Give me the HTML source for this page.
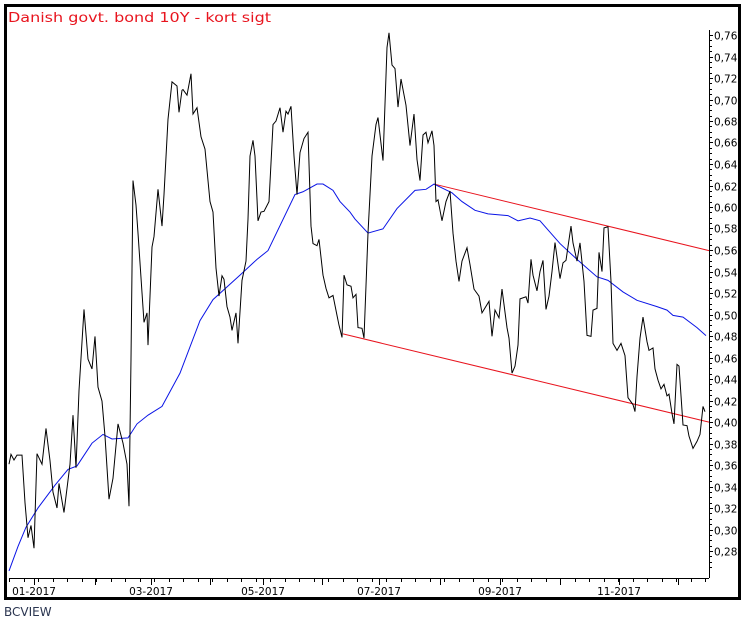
<!DOCTYPE html>
<html><head><meta charset="utf-8"><style>
html,body{margin:0;padding:0;background:#fff;}
svg{display:block;font-family:"DejaVu Sans","Liberation Sans",sans-serif;}
</style></head><body>
<svg width="748" height="627" viewBox="0 0 748 627" xmlns="http://www.w3.org/2000/svg">
<rect x="0" y="0" width="748" height="627" fill="#fff"/>
<rect x="5.5" y="5.5" width="734" height="593" fill="none" stroke="#000" stroke-width="3"/>
<text x="8" y="22" font-size="13" fill="#e8141e" textLength="263" lengthAdjust="spacingAndGlyphs">Danish govt. bond 10Y - kort sigt</text>
<text x="4" y="616" font-size="12" fill="#2a3550">BCVIEW</text>

<!-- y axis -->
<line x1="709.5" y1="30" x2="709.5" y2="578" stroke="#000" stroke-width="1"/>
<g id="yt" stroke="#000" stroke-width="1"></g>
<g font-size="10.5" fill="#000" id="yl"></g>

<!-- x axis -->
<line x1="9" y1="578.5" x2="709" y2="578.5" stroke="#000" stroke-width="1"/>
<g id="xt" stroke="#000" stroke-width="1"></g>
<g font-size="10.5" fill="#000" text-anchor="middle">
<text x="34" y="595">01-2017</text>
<text x="151" y="595">03-2017</text>
<text x="263" y="595">05-2017</text>
<text x="379" y="595">07-2017</text>
<text x="500" y="595">09-2017</text>
<text x="619" y="595">11-2017</text>
</g>

<g transform="translate(0,30) scale(1,0.35014)" fill="none">
<polyline vector-effect="non-scaling-stroke" stroke="#e8141e" stroke-width="1" points="434,440 709,630"/>
<polyline vector-effect="non-scaling-stroke" stroke="#e8141e" stroke-width="1" points="343,868 709,1120"/>
<polyline vector-effect="non-scaling-stroke" stroke="#0a14e6" stroke-width="1" points="9,1545 18,1475 26,1420 38,1365 55,1300 68,1255 77,1245 92,1180 103,1155 112,1168 128,1165 137,1125 148,1100 162,1075 180,980 200,830 213,770 240,700 257,655 268,630 295,470 303,462 317,440 323,440 333,458 340,490 350,520 355,540 368,580 383,568 397,510 415,458 426,455 434,440 452,465 462,490 475,515 488,525 508,530 518,545 530,537 540,545 560,610 577,655 597,705 608,715 623,748 637,772 657,790 667,800 673,815 683,820 697,850 706,873"/>
<polyline vector-effect="non-scaling-stroke" stroke="#000" stroke-width="1" points="9,1240 11,1212 14,1228 17,1214 22,1214 25,1350 28,1450 31,1415 34,1480 37,1210 42,1240 46,1138 50,1230 53,1320 57,1365 59,1295 64,1378 70,1240 73,1100 76,1250 79,1030 84,798 88,940 92,968 95,875 98,1020 102,1060 105,1160 109,1340 113,1280 118,1125 123,1180 127,1240 129,1360 131,940 133,430 136,500 138,580 142,750 144,835 147,808 148,900 152,620 154,590 158,455 162,560 164,470 168,255 172,148 177,160 179,235 182,172 183,170 187,186 191,125 193,240 197,222 201,305 205,340 210,490 213,520 216,680 219,760 222,702 224,712 227,790 230,820 232,858 236,808 238,895 242,715 246,660 248,540 250,360 253,315 255,360 258,545 261,520 264,518 269,490 273,270 276,260 280,222 283,292 286,232 288,240 291,218 294,360 297,470 300,350 304,310 308,292 311,560 313,610 317,616 319,598 323,700 326,738 329,765 333,758 337,815 339,843 342,878 344,700 347,728 351,732 353,765 356,755 358,850 362,852 364,880 368,580 372,360 376,270 378,250 383,373 387,50 389,8 392,100 395,110 398,220 401,140 406,215 410,330 414,240 417,370 420,430 423,300 426,292 428,322 432,288 434,330 436,490 438,485 442,545 446,490 450,460 453,580 456,660 459,718 462,660 467,622 470,670 474,740 479,760 482,808 489,775 492,875 495,800 499,822 502,740 507,850 509,880 512,980 515,960 518,900 520,768 526,762 528,780 531,655 533,700 537,745 540,690 543,658 546,798 549,760 552,690 555,607 560,710 563,665 566,658 571,560 573,608 577,660 580,608 584,718 587,872 591,875 593,800 597,795 599,635 602,690 604,565 608,562 611,718 613,895 617,915 621,895 625,930 628,1050 633,1070 635,1090 637,990 640,880 643,820 647,890 649,915 653,908 655,968 658,1000 661,1025 664,1012 667,1045 669,1040 672,1095 674,1125 677,955 679,960 683,1128 687,1130 689,1160 693,1195 697,1175 700,1155 703,1075 705,1090"/>
</g>
<script>
(function(){
var ns="http://www.w3.org/2000/svg";
var yt=document.getElementById("yt"),yl=document.getElementById("yl"),xt=document.getElementById("xt");
for(var i=0;i<=100;i++){var v=0.76-i*0.005; if(v<0.262)break;
 var y=Math.round(35+(0.76-v)*1075)+0.5; var maj=(i%4==0);
 var l=document.createElementNS(ns,"line");l.setAttribute("x1",709);l.setAttribute("x2",maj?713:712);l.setAttribute("y1",y);l.setAttribute("y2",y);yt.appendChild(l);
 if(maj){var t=document.createElementNS(ns,"text");t.setAttribute("x",714);t.setAttribute("y",y+4);t.textContent=v.toFixed(2).replace(".",",");yl.appendChild(t);}
}
var months=[34,95,151,210,263,322,379,440,500,560,619,678];
months.forEach(function(x){var l=document.createElementNS(ns,"line");l.setAttribute("x1",x+0.5);l.setAttribute("x2",x+0.5);l.setAttribute("y1",578);l.setAttribute("y2",585);xt.appendChild(l);});
for(var x=9;x<708;x+=14.5){var xx=Math.round(x)+0.5;var l=document.createElementNS(ns,"line");l.setAttribute("x1",xx);l.setAttribute("x2",xx);l.setAttribute("y1",578);l.setAttribute("y2",582);xt.appendChild(l);}
})();
</script>
</svg>
</body></html>
